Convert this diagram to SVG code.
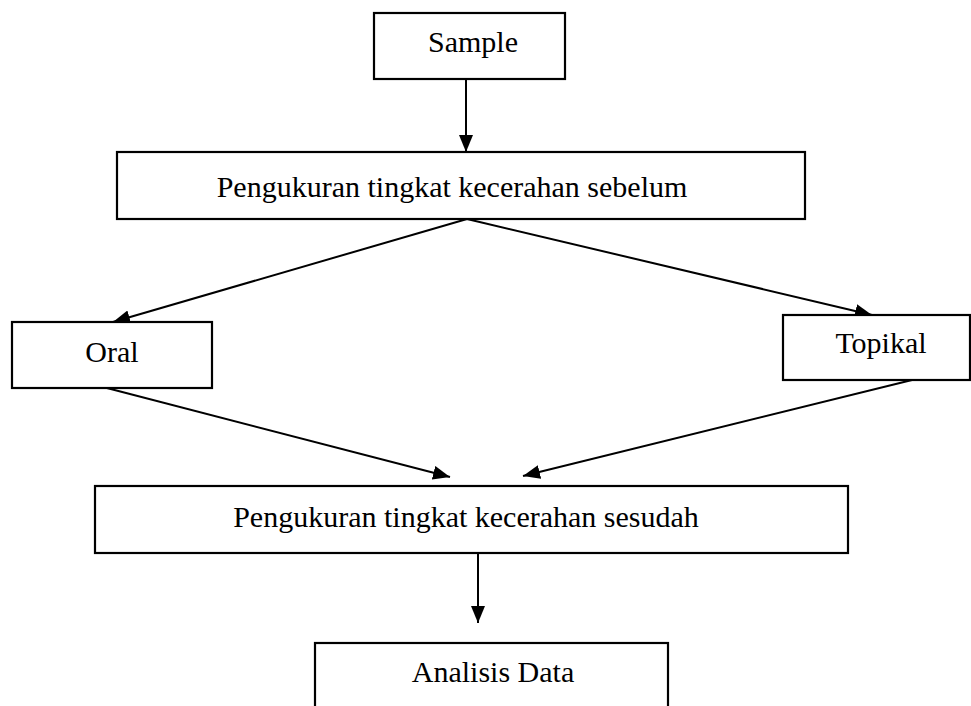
<svg xmlns="http://www.w3.org/2000/svg" width="971" height="706" viewBox="0 0 971 706">
<style>
.box{fill:#fff;stroke:#000;stroke-width:2.2}
.lbl{font-family:"Liberation Serif","Times New Roman",serif;font-size:30px;fill:#000;text-anchor:middle}
.edge{stroke:#000;stroke-width:2;fill:none;marker-end:url(#ah)}
</style>
<defs>
<marker id="ah" markerUnits="userSpaceOnUse" markerWidth="18" markerHeight="14" refX="17" refY="7" orient="auto">
<path d="M0,0 L17,7 L0,14 Z" fill="#000"/>
</marker>
</defs>
<rect width="971" height="706" fill="#fff"/>
<g id="connectors">
<line class="edge" x1="466" y1="79" x2="466" y2="152"/>
<line class="edge" x1="467" y1="219" x2="113" y2="322"/>
<line class="edge" x1="467" y1="219" x2="872" y2="315"/>
<line class="edge" x1="103" y1="387" x2="450" y2="477"/>
<line class="edge" x1="912" y1="380" x2="523" y2="476"/>
<line class="edge" x1="478" y1="553" x2="478" y2="623"/>
</g>
<g id="sample">
<rect class="box" x="374" y="13" width="191" height="66"/>
<text class="lbl" x="473" y="52">Sample</text>
</g>
<g id="sebelum">
<rect class="box" x="117" y="152" width="688" height="67"/>
<text class="lbl" x="452" y="197">Pengukuran tingkat kecerahan sebelum</text>
</g>
<g id="oral">
<rect class="box" x="12" y="322" width="200" height="66"/>
<text class="lbl" x="112" y="362">Oral</text>
</g>
<g id="topikal">
<rect class="box" x="783" y="315" width="187" height="65"/>
<text class="lbl" x="881" y="353">Topikal</text>
</g>
<g id="sesudah">
<rect class="box" x="95" y="486" width="753" height="67"/>
<text class="lbl" x="466" y="527">Pengukuran tingkat kecerahan sesudah</text>
</g>
<g id="analisis">
<rect class="box" x="315" y="643" width="353" height="80"/>
<text class="lbl" x="493" y="682">Analisis Data</text>
</g>
</svg>
